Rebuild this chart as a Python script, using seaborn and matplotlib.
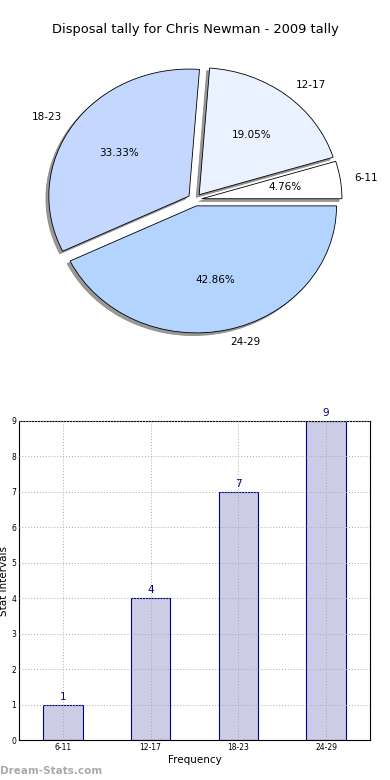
import matplotlib
matplotlib.use("Agg")
import matplotlib.pyplot as plt
import seaborn as sns
import pandas as pd

sns.set_style("white")
plt.rcParams['font.family'] = ['DejaVu Sans']
plt.rcParams['text.color'] = 'black'
plt.rcParams['axes.labelcolor'] = 'black'
plt.rcParams['xtick.color'] = 'black'
plt.rcParams['ytick.color'] = 'black'

categories = ["6-11", "12-17", "18-23", "24-29"]
counts = [1, 4, 7, 9]
pie_colors = ["#FFFFFF", "#EAF1FF", "#C4D8FF", "#B3D4FF"]
title = "Disposal tally for Chris Newman - 2009 tally"

fig = plt.figure(figsize=(3.9, 7.8), dpi=100)

# Pie
axp = fig.add_axes([0.043, 0.516, 0.913, 0.456])
wedges, texts, autotexts = axp.pie(
    counts, labels=categories, colors=pie_colors, autopct="%.2f%%",
    explode=[0.05] * 4, startangle=0, counterclock=True,
    shadow={'ox': -0.015, 'oy': -0.015, 'facecolor': '#808080',
            'edgecolor': '#808080', 'alpha': 0.8},
    wedgeprops=dict(edgecolor="black", linewidth=0.6),
    textprops=dict(fontsize=7.5, color="black"))
axp.set_aspect("auto")
axp.set_xlim(-1.27, 1.27)
axp.set_ylim(-1.4, 1.4)
axp.axis("off")
fig.text(0.5, 1 - 30 / 780, title, ha="center", va="center", fontsize=9.4, color="black")

# Bars
axb = fig.add_axes([19 / 390, 40 / 780, 351 / 390, 319 / 780])
df = pd.DataFrame({"cat": categories, "count": counts})
sns.barplot(data=df, x="cat", y="count", ax=axb, color="#CCCCE6",
            edgecolor="#000080", linewidth=0.8, width=0.45, saturation=1)
for i, v in enumerate(counts):
    axb.text(i, v + 0.08, str(v), ha="center", va="bottom", color="#000080", fontsize=7.5)
axb.set_xlim(-0.5, 3.5)
axb.set_ylim(0, 9)
axb.set_yticks(range(0, 10))
axb.tick_params(axis="both", labelsize=5.5, length=2, direction="in", pad=2)
axb.grid(True, linestyle=(0, (1, 2)), color="#AAAAAA", linewidth=0.7)
axb.set_axisbelow(False)
for b in axb.patches:
    b.set_zorder(1)
axb.set_xlabel("Frequency", fontsize=7.5, labelpad=2)
axb.set_ylabel("Stat Intervals", fontsize=7.5, labelpad=2)
for s in axb.spines.values():
    s.set_color("black")
    s.set_linewidth(0.8)

fig.text(0.0, 1 - 771 / 780, "Dream-Stats.com", color="#AAAAAA", fontsize=7.5,
         fontweight="bold", ha="left", va="center")

fig.savefig("out.png", dpi=100)
